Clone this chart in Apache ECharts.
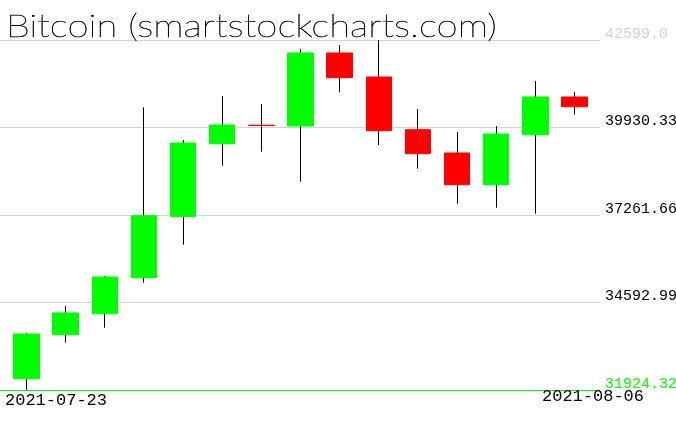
<!DOCTYPE html>
<html><head><meta charset="utf-8">
<script src="https://cdn.jsdelivr.net/npm/echarts@6/dist/echarts.min.js"></script>
<style>html,body{margin:0;padding:0;background:#fff}#c{width:676px;height:431px}</style>
</head><body><div id="c"></div>
<script>
const chartTitle = 'Bitcoin (smartstockcharts.com)';
const dates = ['2021-07-23','2021-07-24','2021-07-25','2021-07-26','2021-07-27','2021-07-28','2021-07-29','2021-07-30','2021-07-31','2021-08-01','2021-08-02','2021-08-03','2021-08-04','2021-08-05','2021-08-06'];
const openP  = [32269, 33611, 34251, 35349, 37216, 39436, 40000, 39976, 42203, 41471, 39863, 39153, 38186, 39711, 40861];
const closeP = [33632, 34273, 35371, 37240, 39458, 40007, 39990, 42203, 41449, 39833, 39131, 38186, 39732, 40861, 40565];
const highP  = [33663, 34486, 35401, 40546, 39549, 40891, 40647, 42324, 42447, 42599.0, 40495, 39793, 39976, 41349, 41013];
const lowP   = [31924.32, 33367, 33824, 35197, 36356, 38765, 39192, 38277, 41004, 39397, 38674, 37606, 37484, 37301, 40321];
const yTicks = [31924.32, 34592.99, 37261.66, 39930.33, 42599.0];
const yTickLabels = ['31924.32', '34592.99', '37261.66', '39930.33', '42599.0'];

const bodies = dates.map((d, i) => [openP[i], closeP[i], Math.min(openP[i], closeP[i]), Math.max(openP[i], closeP[i])]);
const wicks = dates.map((d, i) => [i, lowP[i], highP[i]]);
const yMin = yTicks[0], yMax = yTicks[yTicks.length - 1];

const monoY = {fontFamily: '"Liberation Mono", "DejaVu Sans Mono", monospace', fontSize: 15, lineHeight: 12};
const chart = echarts.init(document.getElementById('c'), null, {renderer: 'canvas'});
chart.setOption({
  animation: false,
  backgroundColor: '#ffffff',
  grid: [
    {left: 7, width: 587, top: 40, height: 350, outerBoundsMode: 'none', containLabel: false},
    {left: 0, width: 600, top: 40, height: 350, outerBoundsMode: 'none', containLabel: false}
  ],
  xAxis: [
    {type: 'category', gridIndex: 0, data: dates, boundaryGap: true, show: false},
    {type: 'value', gridIndex: 1, min: 0, max: 1, show: false}
  ],
  yAxis: [
    {type: 'value', gridIndex: 0, min: yMin, max: yMax, show: false, splitLine: {show: false}},
    {
      type: 'value', gridIndex: 1, min: yMin, max: yMax, position: 'right',
      axisLine: {show: false},
      axisTick: {show: false, customValues: yTicks},
      axisLabel: {
        customValues: yTicks, margin: 5, verticalAlign: 'bottom', hideOverlap: false,
        fontFamily: monoY.fontFamily, fontSize: 15, lineHeight: 12,
        formatter: function (v) {
          let k = 0, best = Infinity;
          yTicks.forEach((t, i) => { const d = Math.abs(t - v); if (d < best) { best = d; k = i; } });
          const s = k === 0 ? 'g' : (k === yTicks.length - 1 ? 'l' : 'k');
          return '{' + s + '|' + yTickLabels[k] + '}';
        },
        rich: {
          g: Object.assign({color: '#00ff00'}, monoY),
          k: Object.assign({color: '#000000'}, monoY),
          l: Object.assign({color: '#d3d3d3'}, monoY)
        }
      },
      splitLine: {show: true, lineStyle: {width: 1, color: ['#00ff00', '#d3d3d3', '#d3d3d3', '#d3d3d3', '#d3d3d3']}}
    }
  ],
  series: [
    {
      type: 'custom', xAxisIndex: 0, yAxisIndex: 0, data: wicks, z: 1,
      encode: {x: 0, y: [1, 2]},
      renderItem: function (params, api) {
        const a = api.coord([api.value(0), api.value(1)]);
        const b = api.coord([api.value(0), api.value(2)]);
        const px = Math.floor(a[0]) + 0.5;
        return {type: 'line', shape: {x1: px, y1: a[1], x2: px, y2: b[1]}, style: {stroke: '#000000', lineWidth: 1}};
      }
    },
    {
      type: 'candlestick', xAxisIndex: 0, yAxisIndex: 0, data: bodies, z: 2, barWidth: 26,
      itemStyle: {color: '#00ff00', color0: '#ff0000', borderColor: '#00ff00', borderColor0: '#ff0000', borderWidth: 1}
    }
  ],
  graphic: [
    {type: 'text', x: 6, y: 11, scaleX: 1.2, z: 10, style: {text: chartTitle, font: '200 32px Lato, "Liberation Sans", sans-serif', fill: '#000000', stroke: '#000000', lineWidth: 0.45, verticalAlign: 'top'}},
    {type: 'text', left: 5, top: 392, z: 10, style: {text: dates[0], font: '17px "Liberation Mono", "DejaVu Sans Mono", monospace', fill: '#000000'}},
    {type: 'text', left: 542, top: 388, z: 10, style: {text: dates[dates.length - 1], font: '17px "Liberation Mono", "DejaVu Sans Mono", monospace', fill: '#000000'}}
  ]
});
</script></body></html>
